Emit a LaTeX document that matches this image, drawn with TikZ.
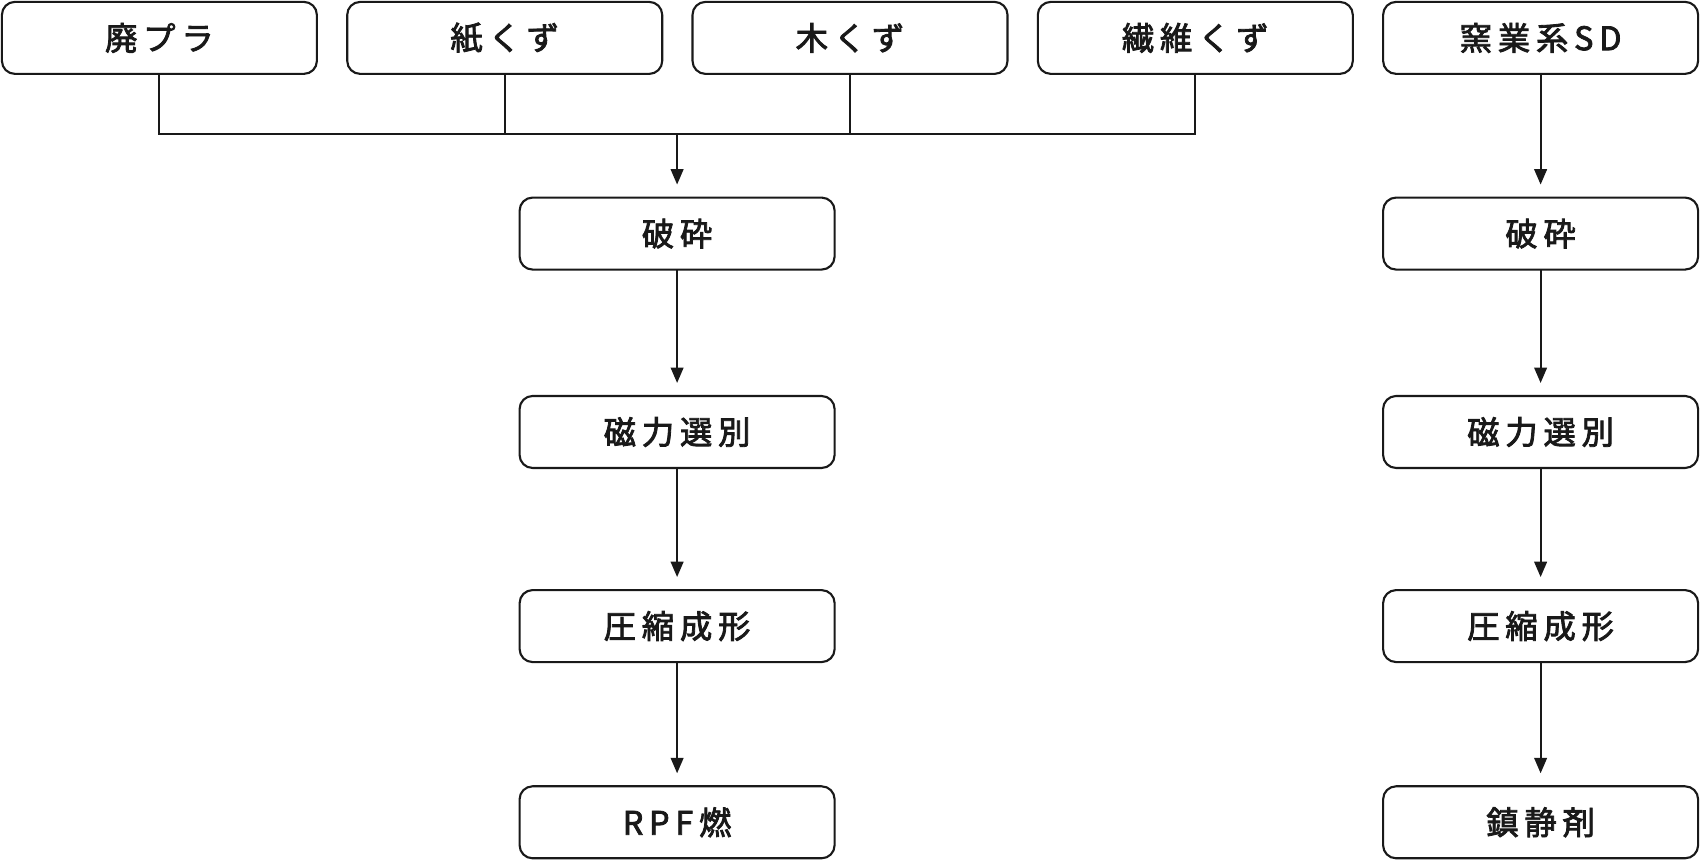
\documentclass[tikz,border=0pt]{standalone}
\usepackage{fontspec}
\newfontfamily\jpfont[LetterSpace=18,FakeBold=2.5]{Noto Sans CJK JP}
\usetikzlibrary{arrows.meta}

\begin{document}
\begin{tikzpicture}
\tikzset{etape/.style={draw=black!90, line width=0.6pt, rounded corners=0.13cm,
  minimum width=3.15cm, minimum height=0.72cm, inner sep=0pt, outer sep=0pt,
  text=black!90, font=\jpfont\fontsize{9.2}{10}\selectfont},
  fleche/.style={-{Triangle[length=4.4pt,width=3.6pt]}, line width=0.6pt, draw=black!90, shorten >=0.13cm}}
\useasboundingbox (0,0) rectangle (17,-8.61);
\node[etape] (P1) at (1.594,-0.379) {廃プラ};
\node[etape] (P2) at (5.047,-0.379) {紙くず};
\node[etape] (P3) at (8.500,-0.379) {木くず};
\node[etape] (P4) at (11.953,-0.379) {繊維くず};
\node[etape] (R0) at (15.406,-0.379) {窯業系SD};
\node[etape] (L1) at (6.771,-2.336) {破砕};
\node[etape] (L2) at (6.771,-4.320) {磁力選別};
\node[etape] (L3) at (6.771,-6.261) {圧縮成形};
\node[etape] (L4) at (6.771,-8.223) {RPF燃};
\node[etape] (R1) at (15.406,-2.336) {破砕};
\node[etape] (R2) at (15.406,-4.320) {磁力選別};
\node[etape] (R3) at (15.406,-6.261) {圧縮成形};
\node[etape] (R4) at (15.406,-8.223) {鎮静剤};
\coordinate (bus) at (6.771,-1.344);
\draw[line width=0.6pt, draw=black!90] (P1.south) |- (bus) -| (P4.south);
\draw[line width=0.6pt, draw=black!90] (P2.south) -- (P2.south |- bus);
\draw[line width=0.6pt, draw=black!90] (P3.south) -- (P3.south |- bus);
\draw[fleche] (bus) -- (L1);
\draw[fleche] (L1) -- (L2);
\draw[fleche] (L2) -- (L3);
\draw[fleche] (L3) -- (L4);
\draw[fleche] (R0) -- (R1);
\draw[fleche] (R1) -- (R2);
\draw[fleche] (R2) -- (R3);
\draw[fleche] (R3) -- (R4);
\end{tikzpicture}
\end{document}
